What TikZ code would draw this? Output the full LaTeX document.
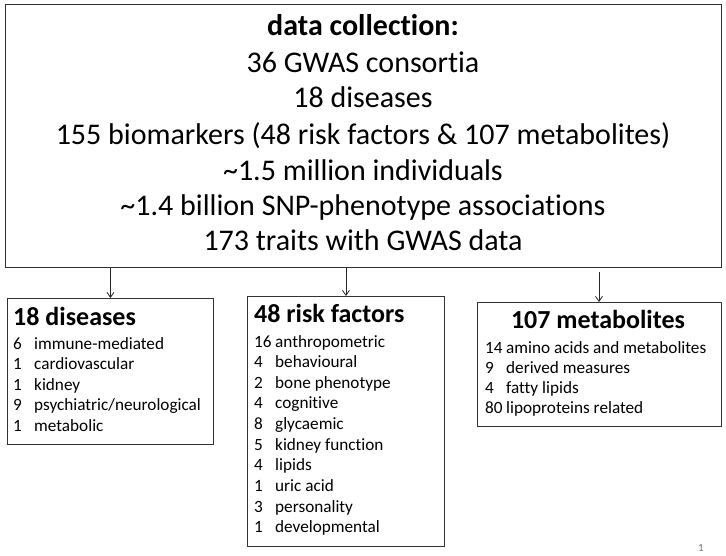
\documentclass[tikz,border=0pt]{standalone}
\usepackage{fontspec}
\setmainfont{Carlito}[Ligatures=NoCommon]
\usetikzlibrary{arrows.meta}
\begin{document}
\begin{tikzpicture}[x=1pt,y=-1pt,
  box/.style={draw=black!80,line width=0.9pt,inner sep=0pt,anchor=north west},
  bigtxt/.style={anchor=base,inner sep=0pt,font=\fontsize{30}{35}\selectfont},
  ttl/.style={inner sep=0pt,font=\bfseries\fontsize{26}{30}\selectfont},
  item/.style={anchor=base west,inner sep=0pt,font=\fontsize{17.2}{20}\selectfont},
  arr/.style={-{Straight Barb[length=5pt,width=7pt]},line width=0.8pt,draw=black!85}]
\useasboundingbox (0,0) rectangle (726,556);
% top box
\node[box,minimum width=716pt,minimum height=263pt] (top) at (5,4) {};
\node[bigtxt,font=\bfseries\fontsize{30}{35}\selectfont] (t1) at (363,36) {data collection:};
\node[bigtxt] (t2) at (363,73) {36 GWAS consortia};
\node[bigtxt] (t3) at (363,108) {18 diseases};
\node[bigtxt] (t4) at (363,145) {155 biomarkers (48 risk factors \& 107 metabolites)};
\node[bigtxt] (t5) at (363,181) {\textasciitilde1.5 million individuals};
\node[bigtxt] (t6) at (363,216) {\textasciitilde1.4 billion SNP-phenotype associations};
\node[bigtxt] (t7) at (363,251) {173 traits with GWAS data};
% diseases box
\node[box,minimum width=206pt,minimum height=146pt] (dis) at (7,298) {};
\node[ttl,anchor=base west] (dist) at (13,325) {18 diseases};
\foreach \n/\t [count=\i] in {6/immune-mediated,1/cardiovascular,1/kidney,9/psychiatric\slash neurological,1/metabolic}
  \node[item] (d\i) at (13,{349+20.5*(\i-1)}) {\makebox[21pt][l]{\n}\t};
% risk factors box
\node[box,minimum width=197pt,minimum height=250pt] (rf) at (247,296) {};
\node[ttl,anchor=base west] (rft) at (254,323) {48 risk factors};
\foreach \n/\t [count=\i] in {16/anthropometric,4/behavioural,2/bone phenotype,4/cognitive,8/glycaemic,5/kidney function,4/lipids,1/uric acid,3/personality,1/developmental}
  \node[item] (r\i) at (254,{347+20.65*(\i-1)}) {\makebox[21pt][l]{\n}\t};
% metabolites box
\node[box,minimum width=244pt,minimum height=124pt] (met) at (477,302) {};
\node[ttl,anchor=base] (mett) at (598,328) {107 metabolites};
\foreach \n/\t [count=\i] in {14/amino acids and metabolites,9/derived measures,4/fatty lipids,80/lipoproteins related}
  \node[item] (m\i) at (485,{353+20*(\i-1)}) {\makebox[21pt][l]{\n}\t};
% arrows
\draw[arr] (top.south -| dis.north) -- (dis.north);
\draw[arr] (top.south -| rf.north) -- (rf.north);
\coordinate (ms) at (599,272);
\draw[arr] (ms) -- (ms |- met.north);
% page number
\node[anchor=base,inner sep=0pt,font=\fontsize{11}{12}\selectfont,text=black!55] (pg) at (701,551) {1};
\end{tikzpicture}
\end{document}
